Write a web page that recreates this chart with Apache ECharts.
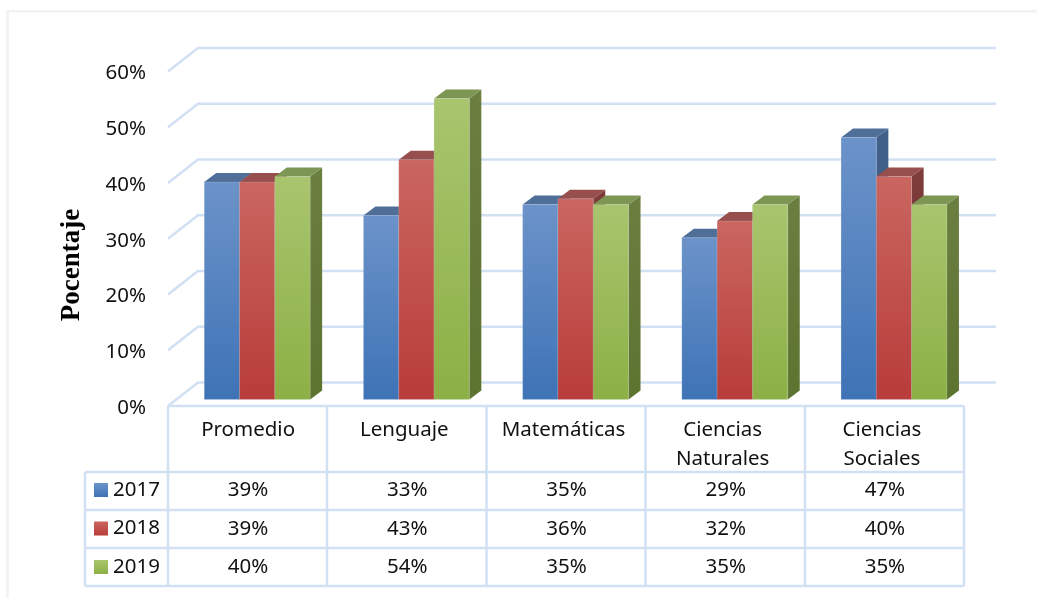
<!DOCTYPE html>
<html>
<head>
<meta charset="utf-8">
<script src="https://cdn.jsdelivr.net/npm/echarts@6/dist/echarts.min.js"></script>
<style>
  html, body { margin: 0; padding: 0; background: #fff; }
  #chart { width: 1037px; height: 598px; }
</style>
</head>
<body>
<div id="chart"></div>
<script>
const categories = ['Promedio', 'Lenguaje', 'Matemáticas', 'Ciencias\nNaturales', 'Ciencias\nSociales'];
const years = ['2017', '2018', '2019'];
const values2017 = [39, 33, 35, 29, 47];
const values2018 = [39, 43, 36, 32, 40];
const values2019 = [40, 54, 35, 35, 35];
const yTicks = [0, 10, 20, 30, 40, 50, 60];
const yearValues = [values2017, values2018, values2019];

const FONT = 'Noto Sans';
const FONT_SIZE = 20.5;
const LINE = '#d2e0f3';

// front, top and side shades per series
const barColors = [
  { light: '#6c93c9', dark: '#3e73b6', top: '#4f6e98', side: '#41608a', sideDark: '#36557f' },
  { light: '#ca6660', dark: '#b83c39', top: '#964f4c', side: '#7e3c3a', sideDark: '#702f2d' },
  { light: '#a9c56e', dark: '#8cb045', top: '#7d9654', side: '#6b7f41', sideDark: '#5d7330' }
];

const vGradient = (a, b) => new echarts.graphic.LinearGradient(0, 0, 0, 1, [
  { offset: 0, color: a },
  { offset: 1, color: b }
]);

// 3D look: front face sits a bit behind the axis plane, depth goes up and right
const DEPTH_X = 12;
const DEPTH_Y = 9;
const BAR_LIFT = 6.5;

const renderBar = (index) => (params, api) => {
  const cat = api.value(0);
  const top = api.coord([cat, api.value(1)]);
  const base = api.coord([cat, 0]);
  const band = api.size([1, 0])[0];
  const w = band * 0.2217;
  const x0 = top[0] + band * 0.0603 + (index - 1.5) * w;
  const x1 = x0 + w;
  const y0 = top[1] - BAR_LIFT;
  const y1 = base[1] - BAR_LIFT;
  const c = barColors[index];
  return {
    type: 'group',
    children: [
      {
        type: 'polygon',
        shape: { points: [[x1, y0], [x1 + DEPTH_X, y0 - DEPTH_Y], [x1 + DEPTH_X, y1 - DEPTH_Y], [x1, y1]] },
        style: { fill: vGradient(c.side, c.sideDark) }
      },
      {
        type: 'polygon',
        shape: { points: [[x0, y0], [x0 + DEPTH_X, y0 - DEPTH_Y], [x1 + DEPTH_X, y0 - DEPTH_Y], [x1, y0]] },
        style: { fill: c.top }
      },
      {
        type: 'rect',
        shape: { x: x0, y: y0, width: w, height: y1 - y0 },
        style: { fill: vGradient(c.light, c.dark), stroke: 'rgba(215,228,245,0.18)', lineWidth: 1 }
      }
    ]
  };
};

// gridlines on the side wall and the back wall
const renderWall = (params, api) => {
  const p = api.coord([0, api.value(1)]);
  const grid = params.coordSys;
  return {
    type: 'polyline',
    shape: { points: [[grid.x, p[1]], [grid.x + 30, p[1] - 23.5], [grid.x + grid.width + 32, p[1] - 23.5]] },
    style: { fill: 'none', stroke: LINE, lineWidth: 2.5 }
  };
};

const rowCenters = [490.5, 529, 567.5];

const renderCell = (params, api) => {
  const cat = api.value(0);
  const row = api.value(1);
  const p = api.coord([cat, 0]);
  return {
    type: 'text',
    style: {
      x: p[0] + 0.5,
      y: rowCenters[row],
      text: yearValues[row][cat] + '%',
      align: 'center',
      verticalAlign: 'middle',
      fontFamily: FONT,
      fontSize: FONT_SIZE,
      fill: '#111'
    }
  };
};

const cellData = [];
yearValues.forEach((vals, row) => vals.forEach((v, cat) => cellData.push([cat, row])));

// table rules
const hLines = [[168, 964, 406], [85, 964, 472], [85, 964, 510], [85, 964, 548], [85, 964, 586]];
const vLines = [[85, 472, 586], [168, 406, 586], [327, 406, 586], [486.5, 406, 586], [645.5, 406, 586], [805, 406, 586], [964, 406, 586]];
const ruleStyle = { stroke: LINE, lineWidth: 2.5 };
const tableRules = [
  ...hLines.map(([x1, x2, y]) => ({ type: 'line', shape: { x1, y1: y, x2, y2: y }, style: ruleStyle, silent: true })),
  ...vLines.map(([x, y1, y2]) => ({ type: 'line', shape: { x1: x, y1, x2: x, y2 }, style: ruleStyle, silent: true }))
];

const chart = echarts.init(document.getElementById('chart'), null, { renderer: 'canvas' });

chart.setOption({
  animation: false,
  backgroundColor: '#fff',
  grid: { left: 168, top: 71.5, width: 796, height: 334.5 },
  legend: {
    orient: 'vertical',
    left: 94,
    top: 478,
    itemWidth: 14,
    itemHeight: 14,
    itemGap: 14.5,
    padding: 0,
    selectedMode: false,
    textStyle: { fontFamily: FONT, fontSize: FONT_SIZE, color: '#111', lineHeight: 24 },
    data: years.map((name) => ({ name, icon: 'rect' }))
  },
  xAxis: {
    type: 'category',
    // the first label sits a little right of the others in the table
    data: categories.map((value, i) => (i === 0 ? { value, textStyle: { padding: [0, 0, 0, 1] } } : value)),
    axisLine: { show: false },
    axisTick: { show: false },
    splitLine: { show: false },
    axisLabel: {
      interval: 0,
      margin: 10,
      padding: [0, 5, 0, 0],
      fontFamily: FONT,
      fontSize: FONT_SIZE,
      lineHeight: 29,
      color: '#111',
      verticalAlign: 'top'
    }
  },
  yAxis: {
    type: 'value',
    min: 0,
    max: 60,
    interval: 10,
    axisLine: { show: false },
    axisTick: { show: false },
    splitLine: { show: false },
    axisLabel: {
      margin: 22,
      formatter: '{tick|{value}%}',
      rich: {
        tick: { padding: [4, 0, 0, 0], fontFamily: FONT, fontSize: FONT_SIZE, color: '#111' }
      }
    }
  },
  graphic: [
    {
      type: 'rect',
      shape: { x: 7.5, y: 11.3, width: 1040, height: 600 },
      style: { fill: 'none', stroke: '#f2f2f2', lineWidth: 2.6 },
      silent: true
    },
    {
      type: 'text',
      x: 72,
      y: 265,
      rotation: Math.PI / 2,
      style: {
        text: 'Pocentaje',
        align: 'center',
        verticalAlign: 'middle',
        fontFamily: 'Liberation Serif',
        fontWeight: 'bold',
        fontSize: 27,
        fill: '#000'
      }
    },
    ...tableRules
  ],
  series: [
    {
      name: 'wall',
      type: 'custom',
      renderItem: renderWall,
      data: yTicks.map((v) => [0, v]),
      encode: { x: 0, y: 1 },
      silent: true,
      z: 1
    },
    ...years.map((name, i) => ({
      name,
      type: 'custom',
      renderItem: renderBar(i),
      data: yearValues[i].map((v, cat) => [cat, v]),
      encode: { x: 0, y: 1 },
      itemStyle: { color: vGradient(barColors[i].light, barColors[i].dark) },
      z: 2 + i
    })),
    {
      name: 'table',
      type: 'custom',
      renderItem: renderCell,
      data: cellData,
      encode: { x: 0, y: 1 },
      silent: true,
      z: 6
    }
  ]
});
</script>
</body>
</html>
